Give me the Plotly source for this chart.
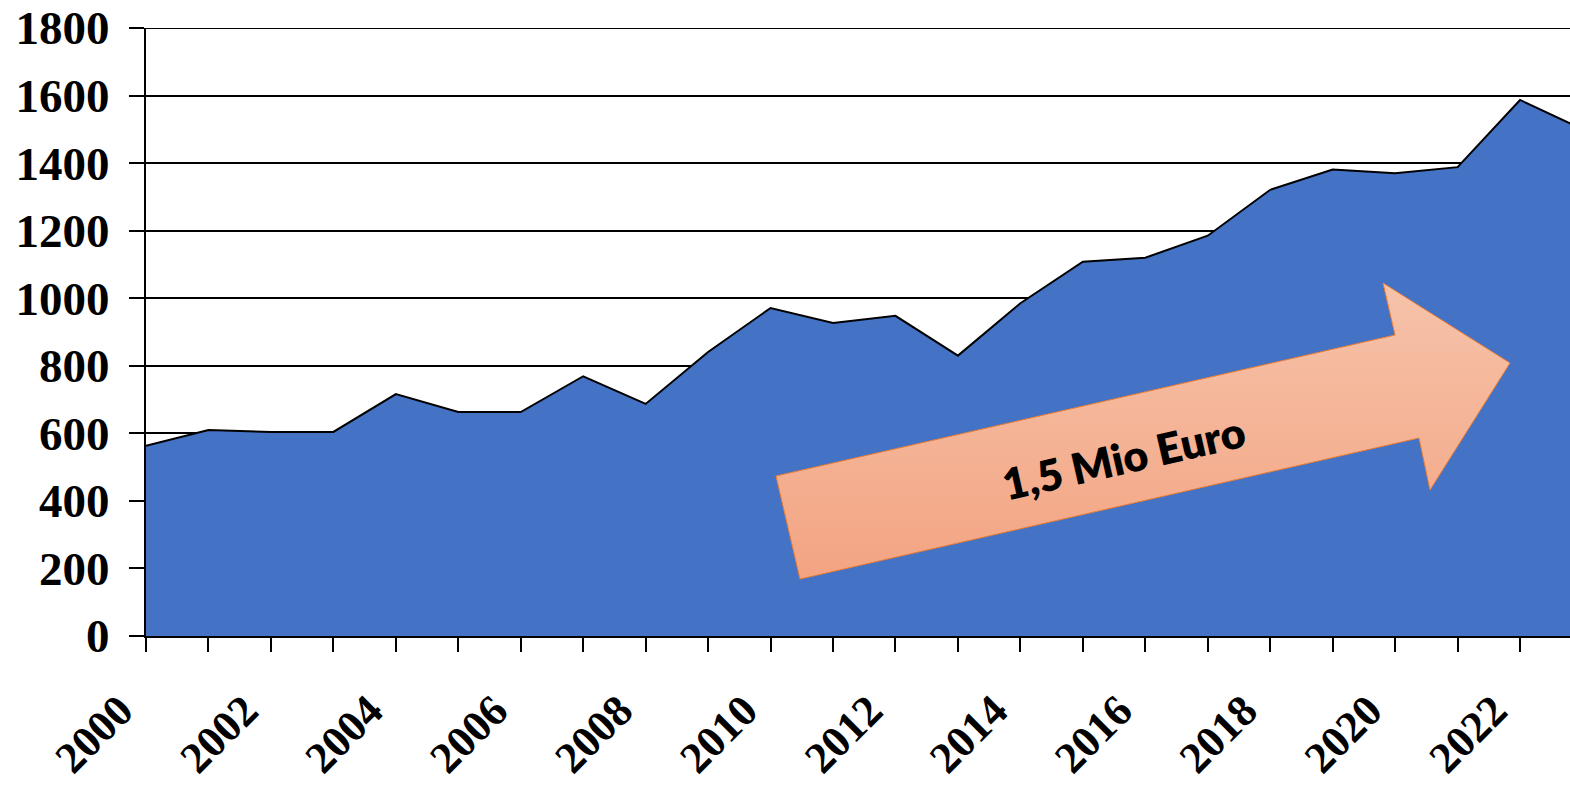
import plotly.graph_objects as go

# Données
annees = list(range(2000, 2024))
montants = [563, 610, 604, 604, 716, 663, 663, 769, 687, 841, 971, 927,
            948, 830, 985, 1108, 1120, 1185, 1321, 1381, 1370, 1388, 1587, 1500]

y_ticks = list(range(0, 2000, 200))
fleche_texte = "1,5 Mio Euro"

W, H = 1570, 786
ML, MR, MT, MB = 146, 0, 28, 150

# Contour de la flèche (pixels de la page), converti en fraction de la zone de tracé
fleche_px = [(776, 476), (1395, 335), (1383, 283), (1510, 363),
             (1430, 490), (1419, 438), (800, 579), (776, 476)]
pw, ph = W - ML - MR, H - MT - MB
fleche_x = [(px - ML) / pw for px, py in fleche_px]
fleche_y = [(H - MB - py) / ph for px, py in fleche_px]

fig = go.Figure()

fig.add_trace(go.Scatter(
    x=annees, y=montants,
    mode="lines",
    fill="tozeroy",
    fillcolor="#4472C4",
    line=dict(color="black", width=2),
    hoverinfo="x+y",
    showlegend=False,
))

fig.add_trace(go.Scatter(
    x=fleche_x, y=fleche_y,
    xaxis="x2", yaxis="y2",
    mode="lines",
    fill="toself",
    fillgradient=dict(type="vertical",
                      colorscale=[[0, "#F3A482"], [1, "#F6C3AA"]]),
    line=dict(color="#ED7D31", width=1),
    hoverinfo="skip",
    showlegend=False,
))

tx, ty = 1123, 457
fig.add_annotation(
    x=(tx - ML) / pw, y=(H - MB - ty) / ph,
    xref="x2", yref="y2",
    text=fleche_texte, showarrow=False,
    textangle=-12.8,
    font=dict(family="Lato", size=43, color="black", weight=800),
)

# ligne de grille du haut (1800), que Plotly ne trace pas au bord
fig.add_shape(type="line", xref="paper", yref="y", x0=0, x1=1, y0=1800, y1=1800,
              line=dict(color="black", width=1.8))

fig.update_layout(
    width=W, height=H,
    margin=dict(l=ML, r=MR, t=MT, b=MB),
    paper_bgcolor="white",
    plot_bgcolor="white",
    showlegend=False,
    xaxis=dict(
        range=[2000, 2022.8],
        tick0=2000, dtick=2,
        tickangle=-45,
        ticks="outside", ticklen=14, tickwidth=2, tickcolor="black",
        minor=dict(dtick=1, ticks="outside", ticklen=14, tickwidth=2,
                   tickcolor="black", showgrid=False),
        showgrid=False, zeroline=False,
        showline=True, linecolor="black", linewidth=2,
        ticklabelstandoff=15,
        ticklabelshift=-26,
        automargin=False,
        tickfont=dict(family="Liberation Serif", size=44, color="black", weight="bold"),
    ),
    yaxis=dict(
        range=[0, 1800],
        tickvals=y_ticks,
        ticks="outside", ticklen=15, tickwidth=2, tickcolor="black",
        showgrid=True, gridcolor="black", gridwidth=1.8,
        zeroline=False,
        showline=True, linecolor="black", linewidth=2,
        ticklabelstandoff=10,
        automargin=False,
        tickfont=dict(family="Liberation Serif", size=47, color="black", weight="bold"),
    ),
    xaxis2=dict(overlaying="x", range=[0, 1], visible=False, fixedrange=True),
    yaxis2=dict(overlaying="y", range=[0, 1], visible=False, fixedrange=True),
)

fig.write_html("out.html", config={"displayModeBar": False},
               post_script="document.body.style.margin='0';")
